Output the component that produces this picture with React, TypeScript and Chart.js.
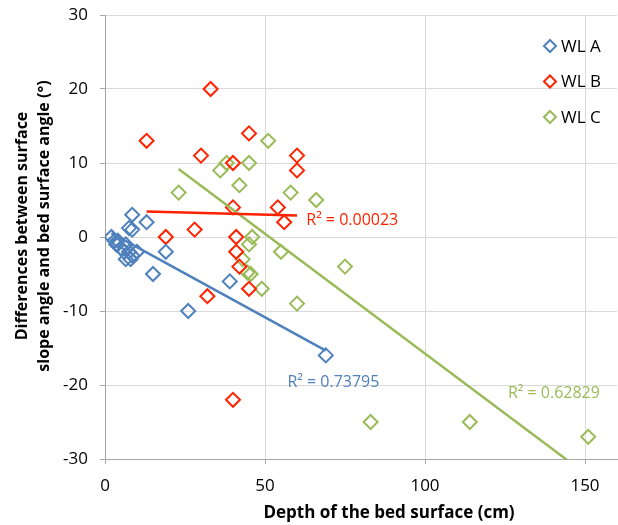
import React, { useEffect, useRef } from "react";
import { Chart, registerables } from "chart.js";

Chart.register(...registerables);

// ---- Data ----
const wlAX = [2, 3, 4, 3.5, 5, 6.5, 6, 7.5, 8.5, 6.5, 8, 7.5, 8.5, 8.5, 13, 10, 15, 19, 26, 39, 69];
const wlAY = [0, -0.5, -0.5, -1, -1.5, -1, -2, -2, -2.5, -3, -3, 1.2, 1, 3, 2, -2, -5, -2, -10, -6, -16];

const wlBX = [13, 19, 28, 30, 32, 33, 40, 40, 40, 41, 41, 42, 45, 45, 54, 56, 60, 60];
const wlBY = [13, 0, 1, 11, -8, 20, 10, 4, -22, 0, -2, -4, 14, -7, 4, 2, 11, 9];

const wlCX = [23, 36, 38, 42, 45, 51, 58, 66, 46, 45, 43, 44.5, 45.5, 49, 55, 60, 75, 83, 114, 151];
const wlCY = [6, 9, 10, 7, 10, 13, 6, 5, 0, -1, -3, -4.8, -5, -7, -2, -9, -4, -25, -25, -27];

// trendline coefficients [intercept, slope] and R² labels
const trendA = [1.0, -0.237];
const trendB = [3.6, -0.0117];
const trendC = [16.65, -0.324];
const r2Labels = ["R² = 0.73795", "R² = 0.00023", "R² = 0.62829"];
// label anchor positions in data units [x, y]
const r2LabelPos = [
  [57, -19.65],
  [62.9, 2.23],
  [125.9, -21.1],
];

const seriesNames = ["WL A", "WL B", "WL C"];
const seriesColors = ["#4f81bd", "#ff2200", "#9bbb59"];

const xTicks = [0, 50, 100, 150];
const yTicks = [-30, -20, -10, 0, 10, 20, 30];

const FONT = "'Open Sans', 'DejaVu Sans', sans-serif";

function toPoints(xs: number[], ys: number[]) {
  return xs.map((x, i) => ({ x, y: ys[i] }));
}

function trendPoints(xs: number[], coef: number[]) {
  const lo = Math.min(...xs);
  const hi = Math.max(...xs);
  return [
    { x: lo, y: coef[0] + coef[1] * lo },
    { x: hi, y: coef[0] + coef[1] * hi },
  ];
}

const overlayPlugin = {
  id: "overlay",
  afterDatasetsDraw(chart: any) {
    const { ctx, chartArea, scales } = chart;
    ctx.save();
    // R² labels
    ctx.font = `16px ${FONT}`;
    ctx.textAlign = "left";
    ctx.textBaseline = "middle";
    r2Labels.forEach((t, i) => {
      ctx.fillStyle = seriesColors[i];
      ctx.fillText(t, scales.x.getPixelForValue(r2LabelPos[i][0]), scales.y.getPixelForValue(r2LabelPos[i][1]));
    });
    // legend
    const mx = chartArea.right - 67;
    seriesNames.forEach((name, i) => {
      const cy = chartArea.top + 31 + i * 35.5;
      ctx.strokeStyle = seriesColors[i];
      ctx.lineWidth = 2;
      const r = 6;
      ctx.beginPath();
      ctx.moveTo(mx - r, cy);
      ctx.lineTo(mx, cy - r);
      ctx.lineTo(mx + r, cy);
      ctx.lineTo(mx, cy + r);
      ctx.closePath();
      ctx.stroke();
      ctx.fillStyle = "#000";
      ctx.font = `17px ${FONT}`;
      ctx.textAlign = "left";
      ctx.textBaseline = "middle";
      ctx.fillText(name, mx + 11, cy + 1);
    });
    // axis titles
    ctx.fillStyle = "#000";
    ctx.textAlign = "center";
    ctx.textBaseline = "middle";
    ctx.font = `bold 17px ${FONT}`;
    ctx.fillText("Depth of the bed surface (cm)", chartArea.left + 284, chartArea.bottom + 54);
    ctx.font = `bold 16px ${FONT}`;
    ctx.translate(22, (chartArea.top + chartArea.bottom) / 2 - 11);
    ctx.rotate(-Math.PI / 2);
    ctx.fillText("Differences between surface", 0, 0);
    ctx.fillText("slope angle and bed surface angle (°)", 0, 22);
    ctx.restore();
  },
};

export default function App() {
  const ref = useRef<HTMLCanvasElement | null>(null);

  useEffect(() => {
    if (!ref.current) return;
    const pointDs = (i: number, xs: number[], ys: number[]) => ({
      type: "scatter" as const,
      label: seriesNames[i],
      data: toPoints(xs, ys),
      pointStyle: "rectRot",
      pointRadius: 7,
      pointBorderWidth: 2,
      borderColor: seriesColors[i],
      backgroundColor: "rgba(0,0,0,0)",
      showLine: false,
      order: 2,
    });
    const lineDs = (i: number, xs: number[], coef: number[]) => ({
      type: "scatter" as const,
      label: "trend " + seriesNames[i],
      data: trendPoints(xs, coef),
      showLine: true,
      pointRadius: 0,
      borderColor: seriesColors[i],
      borderWidth: 2.5,
      backgroundColor: "rgba(0,0,0,0)",
      order: 1,
    });
    const chart = new Chart(ref.current, {
      type: "scatter",
      data: {
        datasets: [
          pointDs(0, wlAX, wlAY),
          pointDs(1, wlBX, wlBY),
          pointDs(2, wlCX, wlCY),
          lineDs(0, wlAX, trendA),
          lineDs(1, wlBX, trendB),
          lineDs(2, wlCX, trendC),
        ] as any,
      },
      options: {
        responsive: false,
        animation: false,
        events: [],
        layout: { autoPadding: false, padding: { top: 15, right: 1, left: 0, bottom: 0 } },
        plugins: { legend: { display: false }, tooltip: { enabled: false } },
        scales: {
          x: {
            type: "linear",
            min: 0,
            max: 160,
            afterBuildTicks: (s: any) => {
              s.ticks = xTicks.map((v) => ({ value: v }));
            },
            afterFit: (s: any) => {
              s.height = 66;
              s.paddingLeft = 0;
              s.paddingRight = 0;
            },
            ticks: {
              includeBounds: false,
              font: { family: FONT, size: 17 },
              color: "#000",
              padding: 12,
              maxRotation: 0,
            },
            grid: { color: "#d9d9d9", tickColor: "#a6a6a6", tickLength: 5, lineWidth: 1 },
            border: { color: "#a6a6a6", width: 1 },
          },
          y: {
            type: "linear",
            min: -30,
            max: 30,
            afterBuildTicks: (s: any) => {
              s.ticks = yTicks.map((v) => ({ value: v }));
            },
            afterFit: (s: any) => {
              s.width = 105;
              s.paddingTop = 0;
              s.paddingBottom = 0;
            },
            ticks: {
              font: { family: FONT, size: 17 },
              color: "#000",
              padding: 12,
            },
            grid: { color: "#d9d9d9", tickColor: "#a6a6a6", tickLength: 5, lineWidth: 1 },
            border: { color: "#a6a6a6", width: 1 },
          },
        },
      },
      plugins: [overlayPlugin],
    });
    return () => chart.destroy();
  }, []);

  return (
    <div style={{ position: "absolute", left: 0, top: 0, width: 618, height: 525, background: "#fff" }}>
      <canvas ref={ref} width={618} height={525} />
    </div>
  );
}
